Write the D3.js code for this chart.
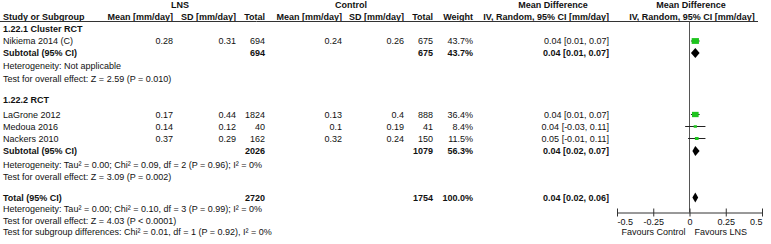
<!DOCTYPE html>
<html>
<head>
<meta charset="utf-8">
<script src="https://cdn.jsdelivr.net/npm/d3@7"></script>
<style>
  body { margin: 0; background: #fff; }
  svg text { font-family: "Liberation Sans", Arial, sans-serif; font-size: 9px; fill: #111; }
  .b { font-weight: bold; }
</style>
</head>
<body>
<div id="chart"></div>
<script>
// ---- data ----
const studies   = ["Nikiema 2014 (C)", "LaGrone 2012", "Medoua 2016", "Nackers 2010"];
const lnsMean   = ["0.28", "0.17", "0.14", "0.37"];
const lnsSD     = ["0.31", "0.44", "0.12", "0.29"];
const lnsN      = [694, 1824, 40, 162];
const ctlMean   = ["0.24", "0.13", "0.1", "0.32"];
const ctlSD     = ["0.26", "0.4", "0.19", "0.24"];
const ctlN      = [675, 888, 41, 150];
const weights   = [43.7, 36.4, 8.4, 11.5];
const md        = [0.04, 0.04, 0.04, 0.05];
const mdLo      = [0.01, 0.01, -0.03, -0.01];
const mdHi      = [0.07, 0.07, 0.11, 0.11];

const groups    = ["1.22.1 Cluster RCT", "1.22.2 RCT"];
const subLnsN   = [694, 2026];
const subCtlN   = [675, 1079];
const subW      = ["43.7%", "56.3%"];
const subMd     = [0.04, 0.04];
const subLo     = [0.01, 0.02];
const subHi     = [0.07, 0.07];
const subHet    = ["Heterogeneity: Not applicable",
                   "Heterogeneity: Tau² = 0.00; Chi² = 0.09, df = 2 (P = 0.96); I² = 0%"];
const subTest   = ["Test for overall effect: Z = 2.59 (P = 0.010)",
                   "Test for overall effect: Z = 3.09 (P = 0.002)"];

const total     = {lns: 2720, ctl: 1754, w: "100.0%", md: 0.04, lo: 0.02, hi: 0.06};
const totalNotes = ["Heterogeneity: Tau² = 0.00; Chi² = 0.10, df = 3 (P = 0.99); I² = 0%",
                    "Test for overall effect: Z = 4.03 (P < 0.0001)",
                    "Test for subgroup differences: Chi² = 0.01, df = 1 (P = 0.92), I² = 0%"];

const axisTicks = [-0.5, -0.25, 0, 0.25, 0.5];
const tickLabels = ["-0.5", "-0.25", "0", "0.25", "0.5"];
const favours = ["Favours Control", "Favours LNS"];

// ---- layout ----
const width = 771, height = 244;
const col = {study: 3, lm: 173, ls: 236, ln: 265, cm: 342, cs: 404, cn: 433, w: 473, md: 609};
const x = d3.scaleLinear().domain([-0.5, 0.5]).range([617, 762]);
const axisY = 212.5, headLine = 21.5;

// row centres
const rowY = {
  h1: 5, h2: 16.5,
  g0: 28.5, sub0: 53, het0: 66, test0: 78.5,
  g1: 100, sub1: 151, het1: 164.5, test1: 177,
  tot: 197.5, n0: 209, n1: 220.5, n2: 232
};
const studyY = [41, 114.5, 126.5, 138.5];

const fmt = v => v.toFixed(2);
const ciText = (m, l, h) => `${fmt(m)} [${fmt(l)}, ${fmt(h)}]`;

const svg = d3.select("#chart").append("svg")
  .attr("width", width).attr("height", height)
  .attr("viewBox", [0, 0, width, height]);

function txt(xp, y, s, anchor = "start", bold = false) {
  svg.append("text")
    .attr("x", xp).attr("y", y).attr("dy", "0.35em")
    .attr("text-anchor", anchor)
    .attr("class", bold ? "b" : null)
    .text(s);
}

// header
txt(180, rowY.h1, "LNS", "middle", true);
txt(351, rowY.h1, "Control", "middle", true);
txt(553, rowY.h1, "Mean Difference", "middle", true);
txt(691, rowY.h1, "Mean Difference", "middle", true);
txt(col.study, rowY.h2, "Study or Subgroup", "start", true);
txt(col.lm, rowY.h2, "Mean [mm/day]", "end", true);
txt(col.ls, rowY.h2, "SD [mm/day]", "end", true);
txt(col.ln, rowY.h2, "Total", "end", true);
txt(col.cm, rowY.h2, "Mean [mm/day]", "end", true);
txt(col.cs, rowY.h2, "SD [mm/day]", "end", true);
txt(col.cn, rowY.h2, "Total", "end", true);
txt(col.w, rowY.h2, "Weight", "end", true);
txt(col.md, rowY.h2, "IV, Random, 95% CI [mm/day]", "end", true);
txt(692, rowY.h2, "IV, Random, 95% CI [mm/day]", "middle", true);

svg.append("line")
  .attr("x1", 0).attr("x2", 758).attr("y1", headLine).attr("y2", headLine)
  .attr("stroke", "#333").attr("stroke-width", 1);

// zero line
svg.append("line")
  .attr("x1", x(0)).attr("x2", x(0)).attr("y1", headLine).attr("y2", axisY)
  .attr("stroke", "#555").attr("stroke-width", 1);

// study rows
studies.forEach((s, i) => {
  const y = studyY[i];
  txt(col.study, y, s);
  txt(col.lm, y, lnsMean[i], "end");
  txt(col.ls, y, lnsSD[i], "end");
  txt(col.ln, y, lnsN[i], "end");
  txt(col.cm, y, ctlMean[i], "end");
  txt(col.cs, y, ctlSD[i], "end");
  txt(col.cn, y, ctlN[i], "end");
  txt(col.w, y, weights[i].toFixed(1) + "%", "end");
  txt(col.md, y, ciText(md[i], mdLo[i], mdHi[i]), "end");
});

const ci = svg.append("g");
ci.selectAll("line").data(d3.range(studies.length)).join("line")
  .attr("x1", i => x(mdLo[i])).attr("x2", i => x(mdHi[i]))
  .attr("y1", i => studyY[i]).attr("y2", i => studyY[i])
  .attr("stroke", "#222").attr("stroke-width", 1);
const sz = i => 1.1 * Math.sqrt(weights[i]);
ci.selectAll("rect").data(d3.range(studies.length)).join("rect")
  .attr("x", i => x(md[i]) - sz(i) / 2)
  .attr("y", i => studyY[i] - sz(i) * 0.4)
  .attr("width", sz).attr("height", i => sz(i) * 0.8)
  .attr("fill", "#1ec41e");

// diamonds
function diamond(m, l, h, y) {
  svg.append("path")
    .attr("d", `M${x(l)},${y}L${x(m)},${y - 5}L${x(h)},${y}L${x(m)},${y + 5}Z`)
    .attr("fill", "#000");
}

// subgroups
groups.forEach((g, k) => {
  txt(col.study, rowY["g" + k], g, "start", true);
  const y = rowY["sub" + k];
  txt(col.study, y, "Subtotal (95% CI)", "start", true);
  txt(col.ln, y, subLnsN[k], "end", true);
  txt(col.cn, y, subCtlN[k], "end", true);
  txt(col.w, y, subW[k], "end", true);
  txt(col.md, y, ciText(subMd[k], subLo[k], subHi[k]), "end", true);
  diamond(subMd[k], subLo[k], subHi[k], y);
  txt(col.study, rowY["het" + k], subHet[k]);
  txt(col.study, rowY["test" + k], subTest[k]);
});

// total
txt(col.study, rowY.tot, "Total (95% CI)", "start", true);
txt(col.ln, rowY.tot, total.lns, "end", true);
txt(col.cn, rowY.tot, total.ctl, "end", true);
txt(col.w, rowY.tot, total.w, "end", true);
txt(col.md, rowY.tot, ciText(total.md, total.lo, total.hi), "end", true);
diamond(total.md, total.lo, total.hi, rowY.tot);
totalNotes.forEach((n, i) => txt(col.study, rowY["n" + i], n));

// axis
const ax = svg.append("g")
  .attr("transform", `translate(0,${axisY})`)
  .call(d3.axisBottom(x).tickValues(axisTicks)
    .tickFormat((d, i) => tickLabels[i]).tickSizeOuter(0).tickSizeInner(4));
ax.select(".domain").attr("stroke", "#333");
ax.selectAll(".tick line").attr("y1", -4).attr("y2", 4).attr("stroke", "#333");
ax.selectAll(".tick text").attr("y", 6).attr("dy", "0.71em")
  .attr("text-anchor", (d, i, n) => i === 0 ? "start" : i === n.length - 1 ? "end" : "middle")
  .style("font-family", '"Liberation Sans", Arial, sans-serif').style("font-size", "9px").attr("fill", "#111");

txt(x(0) - 4, rowY.n2, favours[0], "end");
txt(x(0) + 5, rowY.n2, favours[1], "start");
</script>
</body>
</html>
